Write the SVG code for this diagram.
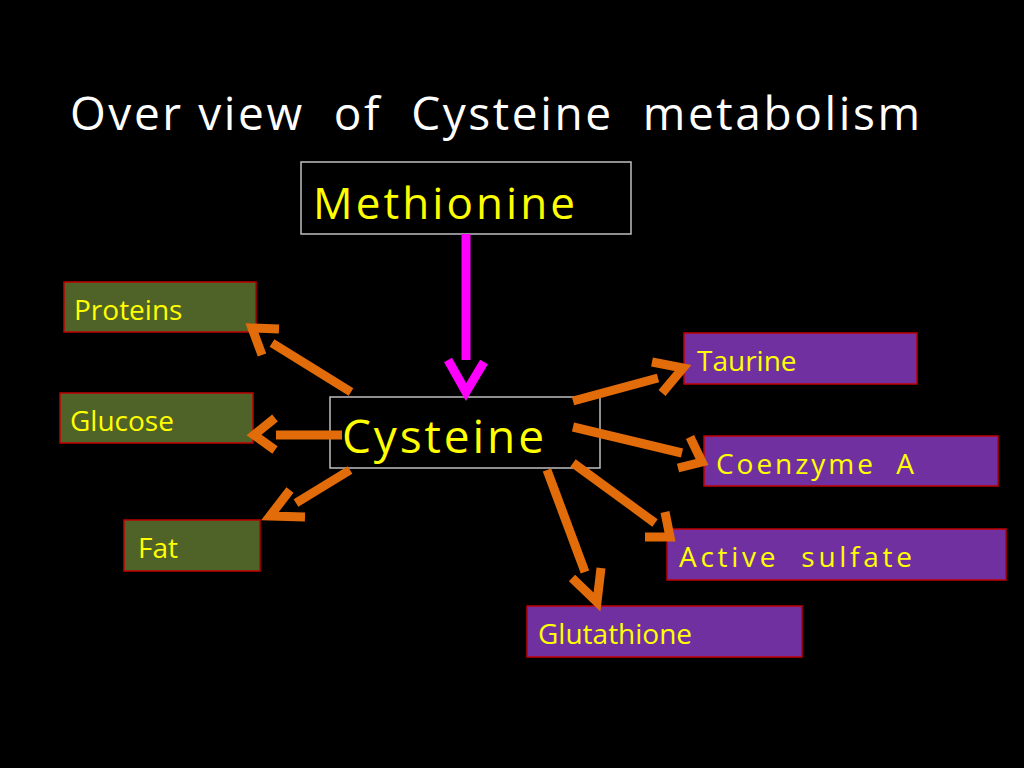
<svg xmlns="http://www.w3.org/2000/svg" width="1024" height="768" viewBox="0 0 1024 768" xml:space="preserve">
<style>
text{font-family:"Open Sans","Liberation Sans",sans-serif;fill:#ffff00;white-space:pre}
.g{fill:#4f6228;stroke:#c00000;stroke-width:1.5}
.p{fill:#7030a0;stroke:#c00000;stroke-width:1.5}
.k{fill:#000;stroke:#bfbfbf;stroke-width:1.5}
.a{stroke:#e36c0a;stroke-width:9;fill:none}
.m{stroke:#ff00ff;stroke-width:9;fill:none}
.l{font-size:28px}
</style>
<rect width="1024" height="768" fill="#000"/>
<text x="70" y="130" font-size="46" textLength="850" lengthAdjust="spacing" style="fill:#fff">Over view  of  Cysteine  metabolism</text>
<g id="methionine"><rect class="k" x="301" y="162" width="330" height="72"/><text x="313" y="219" font-size="44" textLength="262">Methionine</text></g>
<g id="cysteine"><rect class="k" x="330" y="397" width="270" height="71"/><text x="342" y="453" font-size="46" textLength="202">Cysteine</text></g>
<g id="proteins"><rect class="g" x="64" y="282" width="192" height="50"/><text class="l" x="74" y="320">Proteins</text></g>
<g id="glucose"><rect class="g" x="60" y="393" width="193" height="50"/><text class="l" x="70" y="431">Glucose</text></g>
<g id="fat"><rect class="g" x="124" y="520" width="136" height="51"/><text class="l" x="138" y="558">Fat</text></g>
<g id="taurine"><rect class="p" x="684" y="333" width="233" height="51"/><text class="l" x="697" y="371">Taurine</text></g>
<g id="coenzymea"><rect class="p" x="704" y="436" width="294" height="50"/><text class="l" x="716" y="474" textLength="198">Coenzyme  A</text></g>
<g id="activesulfate"><rect class="p" x="667" y="529" width="339" height="51"/><text class="l" x="679" y="567" textLength="233">Active  sulfate</text></g>
<g id="glutathione"><rect class="p" x="527" y="606" width="275" height="51"/><text class="l" x="538" y="644">Glutathione</text></g>
<g id="connectors">
<line class="m" x1="466" y1="234" x2="466" y2="360"/><polyline class="m" points="448,360 466,392 484,362"/>
<line class="a" x1="351" y1="392" x2="272" y2="343"/><polyline class="a" points="279,329 252,328 262,355"/>
<line class="a" x1="342" y1="435" x2="276" y2="435"/><polyline class="a" points="275,418 254,435 275,450"/>
<line class="a" x1="350" y1="470" x2="296" y2="503"/><polyline class="a" points="290,490 270,516 305,517"/>
<line class="a" x1="573" y1="401" x2="658" y2="378"/><polyline class="a" points="652,362 683,368 662,393"/>
<line class="a" x1="573" y1="427" x2="682" y2="453"/><polyline class="a" points="690,437 702,462 678,468"/>
<line class="a" x1="573" y1="463" x2="655" y2="523"/><polyline class="a" points="665,512 670,537 645,537"/>
<line class="a" x1="547" y1="470" x2="585" y2="572"/><polyline class="a" points="572,578 597,602 601,568"/>
</g>
</svg>
